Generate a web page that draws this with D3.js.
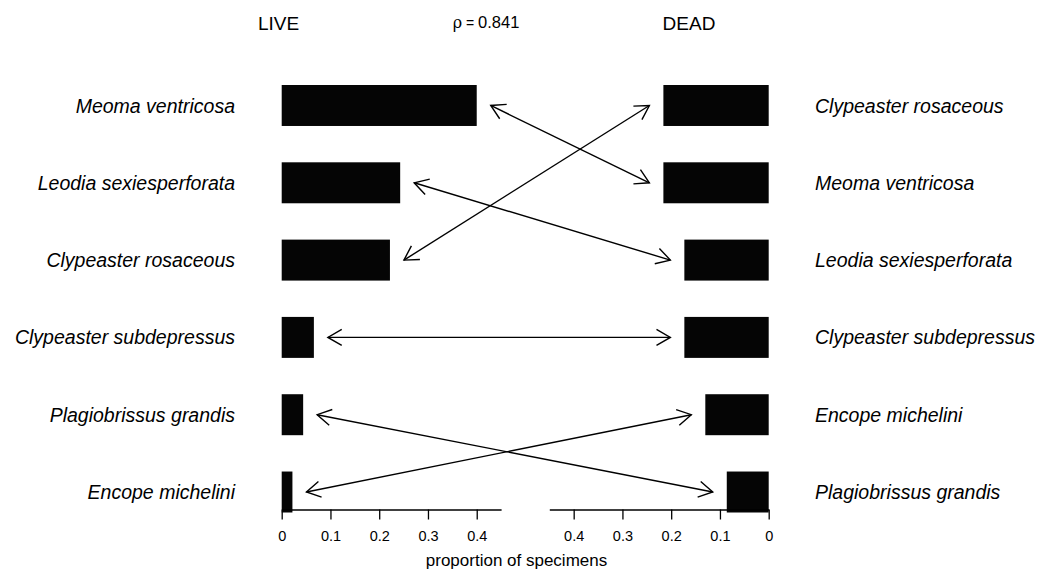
<!DOCTYPE html>
<html>
<head>
<meta charset="utf-8">
<script src="https://cdn.jsdelivr.net/npm/d3@7"></script>
<style>
  body { margin: 0; background: #fff; }
  text { font-family: "Liberation Sans", Arial, sans-serif; fill: #000; }
</style>
</head>
<body>
<div id="chart"></div>
<script>
"use strict";

// live assemblage, ranked
let liveSpecies = ["Meoma ventricosa", "Leodia sexiesperforata", "Clypeaster rosaceous",
                   "Clypeaster subdepressus", "Plagiobrissus grandis", "Encope michelini"];
let liveProp = [0.400, 0.243, 0.222, 0.066, 0.044, 0.022];

// dead assemblage, ranked
let deadSpecies = ["Clypeaster rosaceous", "Meoma ventricosa", "Leodia sexiesperforata",
                   "Clypeaster subdepressus", "Encope michelini", "Plagiobrissus grandis"];
let deadProp = [0.216, 0.216, 0.173, 0.173, 0.130, 0.086];

let tickValues = [0, 0.1, 0.2, 0.3, 0.4];
let rho = 0.841;

var width = 1052,
    height = 573,
    axisY = 509.5,
    gap = 14,
    headLen = 16,
    headAngle = Math.PI / 6;

var svg = d3.select("#chart").append("svg")
  .attr("width", width)
  .attr("height", height);

var xLive = d3.scaleLinear().domain([0, 0.45]).range([281.7, 501.1]);
var xDead = d3.scaleLinear().domain([0, 0.45]).range([768.7, 549.3]);

var y = d3.scaleBand()
  .domain(d3.range(liveSpecies.length))
  .range([85, 512.5])
  .paddingInner(0.47)
  .paddingOuter(0);

var mid = function(i) { return y(i) + y.bandwidth() / 2; };

// bars
svg.append("g").selectAll("rect").data(liveProp)
  .enter().append("rect")
    .attr("x", xLive(0))
    .attr("y", function(d, i) { return y(i); })
    .attr("width", function(d) { return xLive(d) - xLive(0); })
    .attr("height", y.bandwidth())
    .style("fill", "#050505");

svg.append("g").selectAll("rect").data(deadProp)
  .enter().append("rect")
    .attr("x", function(d) { return xDead(d); })
    .attr("y", function(d, i) { return y(i); })
    .attr("width", function(d) { return xDead(0) - xDead(d); })
    .attr("height", y.bandwidth())
    .style("fill", "#050505");

// species names
svg.append("g").selectAll("text").data(liveSpecies)
  .enter().append("text")
    .attr("x", 235)
    .attr("y", function(d, i) { return mid(i); })
    .attr("dy", "0.36em")
    .attr("text-anchor", "end")
    .style("font-style", "italic")
    .style("font-size", "19.5px")
    .text(function(d) { return d; });

svg.append("g").selectAll("text").data(deadSpecies)
  .enter().append("text")
    .attr("x", 815)
    .attr("y", function(d, i) { return mid(i); })
    .attr("dy", "0.36em")
    .attr("text-anchor", "start")
    .style("font-style", "italic")
    .style("font-size", "19.5px")
    .text(function(d) { return d; });

// axes
function styleAxis(g) {
  g.attr("font-size", null).attr("font-family", null);
  g.selectAll("path, line").style("stroke", "#000").style("stroke-width", 1.3);
  g.selectAll("text").style("font-size", "14.5px");
}

svg.append("g")
  .attr("transform", "translate(0," + axisY + ")")
  .call(d3.axisBottom(xLive).tickValues(tickValues).tickSize(10).tickSizeOuter(0)
        .tickPadding(11).tickFormat(function(d) { return String(d); }))
  .call(styleAxis);

svg.append("g")
  .attr("transform", "translate(0," + axisY + ")")
  .call(d3.axisBottom(xDead).tickValues(tickValues).tickSize(10).tickSizeOuter(0)
        .tickPadding(11).tickFormat(function(d) { return String(d); }))
  .call(styleAxis);

svg.append("text")
  .attr("x", 516.5)
  .attr("y", 566)
  .attr("text-anchor", "middle")
  .style("font-size", "17px")
  .text("proportion of specimens");

// titles
svg.append("text")
  .attr("x", 278.5).attr("y", 30)
  .attr("text-anchor", "middle")
  .style("font-size", "19px")
  .text("LIVE");

svg.append("text")
  .attr("x", 689).attr("y", 30)
  .attr("text-anchor", "middle")
  .style("font-size", "19px")
  .text("DEAD");

var rhoText = svg.append("text")
  .attr("x", 486).attr("y", 28.3)
  .attr("text-anchor", "middle")
  .style("font-size", "16.5px");
rhoText.append("tspan")
  .style("font-family", "'DejaVu Serif', 'Liberation Serif', serif")
  .style("font-size", "16px")
  .text("\u03c1");
rhoText.append("tspan").style("font-size", "14px").text(" = ");
rhoText.append("tspan").text(rho.toFixed(3));

// arrows linking each species' live rank to its dead rank
var links = liveSpecies.map(function(name, i) {
  var j = deadSpecies.indexOf(name);
  return {
    x1: xLive(liveProp[i]) + gap, y1: mid(i),
    x2: xDead(deadProp[j]) - gap, y2: mid(j)
  };
});

function head(px, py, fromX, fromY) {
  var a = Math.atan2(py - fromY, px - fromX);
  var p1 = [px - headLen * Math.cos(a - headAngle), py - headLen * Math.sin(a - headAngle)];
  var p2 = [px - headLen * Math.cos(a + headAngle), py - headLen * Math.sin(a + headAngle)];
  return "M" + p1 + "L" + [px, py] + "L" + p2;
}

var arrows = svg.append("g")
  .style("stroke", "#000")
  .style("stroke-width", 1.4)
  .style("fill", "none");

arrows.selectAll("line").data(links)
  .enter().append("line")
    .attr("x1", function(d) { return d.x1; })
    .attr("y1", function(d) { return d.y1; })
    .attr("x2", function(d) { return d.x2; })
    .attr("y2", function(d) { return d.y2; });

arrows.selectAll("path.start").data(links)
  .enter().append("path")
    .attr("class", "start")
    .attr("d", function(d) { return head(d.x1, d.y1, d.x2, d.y2); });

arrows.selectAll("path.end").data(links)
  .enter().append("path")
    .attr("class", "end")
    .attr("d", function(d) { return head(d.x2, d.y2, d.x1, d.y1); });
</script>
</body>
</html>
